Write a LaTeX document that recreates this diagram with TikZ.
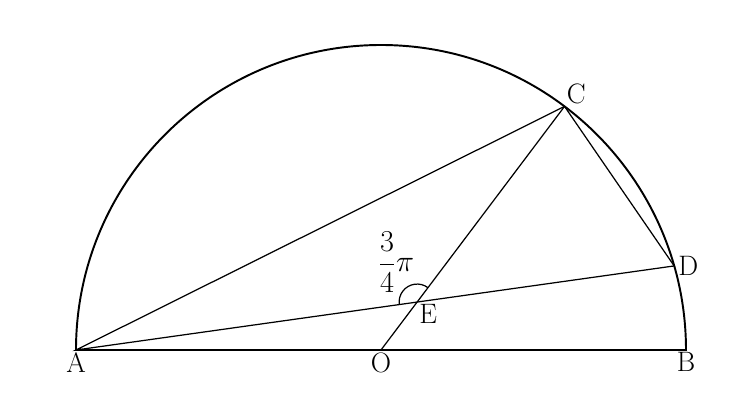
\documentclass[tikz,border=0pt]{standalone}
\usepackage{amsmath}
\usepackage{fontspec}
\usetikzlibrary{calc}
\begin{document}
\begin{tikzpicture}[font=\fontsize{16}{19}\selectfont, line width=0.7pt]
        \useasboundingbox (-7.62,-1.4) rectangle (7.38,7.0);

        \coordinate (O) at (0,0);
        \coordinate (A) at (180:6.1);
        \coordinate (B) at (0:6.1);
        \coordinate (C) at (53:6.1);
        \coordinate (D) at (16:6.1);
        \coordinate (E) at (intersection of A--D and O--C);

        \draw[line width=1.1pt] (B) arc (0:180:6.1) -- cycle;
        \draw (A) -- (C) -- (D) -- cycle;
        \draw (O) -- (C);

        \draw (E) ++(53:0.36) arc (53:188:0.36);

        \node[below, inner sep=1pt] at (A) {A};
        \node[below, inner sep=1pt] at (O) {O};
        \node[below, inner sep=1pt] at (B) {B};
        \node[above right, inner sep=1pt] at (C) {C};
        \node[right, inner sep=2pt] at (D) {D};
        \node[below right, inner sep=1pt] at (E) {E};
        \node (ang) at ($(E)+(-0.42,0.8)$) {$\dfrac{3}{4}\pi$};
    \end{tikzpicture}
\end{document}
